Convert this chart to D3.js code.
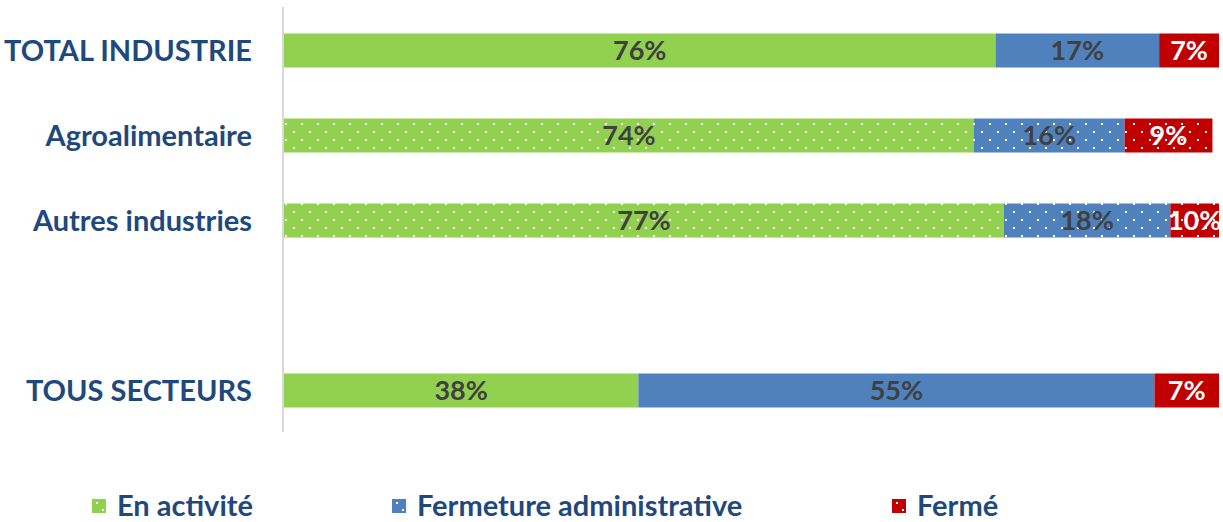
<!DOCTYPE html>
<html>
<head>
<meta charset="utf-8">
<script src="https://cdn.jsdelivr.net/npm/d3@7"></script>
<style>
  body { margin: 0; background: #fff; }
  text { font-family: Lato, "Open Sans", sans-serif; font-weight: bold; }
</style>
</head>
<body>
<div id="chart"></div>
<script>
var categories = ["TOTAL INDUSTRIE", "Agroalimentaire", "Autres industries", "", "TOUS SECTEURS"];
var series = ["En activité", "Fermeture administrative", "Fermé"];
var enActivite = [76.1, 73.8, 77.0, null, 37.9];
var fermetureAdmin = [17.5, 16.1, 17.8, null, 55.2];
var ferme = [6.4, 9.4, 10.0, null, 6.9];
var valueLabels = [["76%", "17%", "7%"], ["74%", "16%", "9%"], ["77%", "18%", "10%"], null, ["38%", "55%", "7%"]];
var dotted = [false, true, true, false, false];

(function(){
    var width = 1223;
    var height = 522;
    var colors = ["#92d050", "#4f81bd", "#c00000"];
    var labelColors = ["#404040", "#404040", "#ffffff"];
    var textBlue = "#1f497d";

    var svg = d3.select("#chart")
        .append("svg")
        .attr("width", width)
        .attr("height", height);

    var defs = svg.append("defs");
    colors.forEach(function(c, i){
        var p = defs.append("pattern")
            .attr("id", "dots" + i)
            .attr("width", 16)
            .attr("height", 16)
            .attr("patternUnits", "userSpaceOnUse");
        p.append("rect").attr("width", 16).attr("height", 16).attr("fill", c);
        p.append("rect").attr("x", 5).attr("y", 3).attr("width", 2).attr("height", 2).attr("fill", "#fff");
        p.append("rect").attr("x", 13).attr("y", 11).attr("width", 2).attr("height", 2).attr("fill", "#fff");
    });
    defs.append("clipPath").attr("id", "plotclip")
        .append("rect").attr("x", 284).attr("y", 0).attr("width", 935).attr("height", 440);

    var x = d3.scaleLinear().domain([0, 100]).range([284, 1219]);
    var y = d3.scaleBand().domain(d3.range(categories.length)).range([8, 433]).paddingInner(0.6).paddingOuter(0.3);

    // vertical axis line
    svg.append("line")
        .attr("x1", 283).attr("x2", 283)
        .attr("y1", 7).attr("y2", 432)
        .attr("stroke", "#d9d9d9")
        .attr("stroke-width", 2);

    // category labels
    svg.selectAll(".cat")
        .data(categories)
        .enter().append("text")
        .attr("class", "cat")
        .attr("x", 252)
        .attr("y", function(d, i){ return y(i) + y.bandwidth() / 2; })
        .attr("dy", "0.35em")
        .attr("text-anchor", "end")
        .attr("fill", textBlue)
        .attr("font-size", 29)
        .text(function(d){ return d; });

    var rows = [];
    categories.forEach(function(c, i){
        if (enActivite[i] == null) return;
        var vals = [enActivite[i], fermetureAdmin[i], ferme[i]];
        var start = 0;
        vals.forEach(function(v, j){
            rows.push({ row: i, s: j, x0: start, x1: start + v, label: valueLabels[i][j] });
            start += v;
        });
    });

    var plot = svg.append("g").attr("clip-path", "url(#plotclip)");

    plot.selectAll(".seg")
        .data(rows)
        .enter().append("rect")
        .attr("class", "seg")
        .attr("x", function(d){ return x(d.x0); })
        .attr("y", function(d){ return y(d.row); })
        .attr("width", function(d){ return x(d.x1) - x(d.x0); })
        .attr("height", y.bandwidth())
        .attr("fill", function(d){ return dotted[d.row] ? "url(#dots" + d.s + ")" : colors[d.s]; });

    plot.selectAll(".val")
        .data(rows)
        .enter().append("text")
        .attr("class", "val")
        .attr("x", function(d){ return (x(d.x0) + Math.min(x(d.x1), 1219)) / 2; })
        .attr("y", function(d){ return y(d.row) + y.bandwidth() / 2; })
        .attr("dy", "0.35em")
        .attr("text-anchor", "middle")
        .attr("fill", function(d){ return labelColors[d.s]; })
        .attr("font-size", 27)
        .text(function(d){ return d.label; });

    // legend
    var legendX = [92, 392, 892];
    var legend = svg.selectAll(".leg")
        .data(series)
        .enter().append("g")
        .attr("class", "leg")
        .attr("transform", function(d, i){ return "translate(" + legendX[i] + ",499)"; });
    legend.append("rect")
        .attr("width", 14).attr("height", 14)
        .attr("fill", function(d, i){ return colors[i]; });
    legend.append("rect").attr("x", 4).attr("y", 3).attr("width", 2).attr("height", 2).attr("fill", "#fff");
    legend.append("rect").attr("x", 10).attr("y", 10).attr("width", 2).attr("height", 2).attr("fill", "#fff");
    legend.append("text")
        .attr("x", 25)
        .attr("y", 7)
        .attr("dy", "0.35em")
        .attr("fill", textBlue)
        .attr("font-size", 29)
        .text(function(d){ return d; });
})();
</script>
</body>
</html>
